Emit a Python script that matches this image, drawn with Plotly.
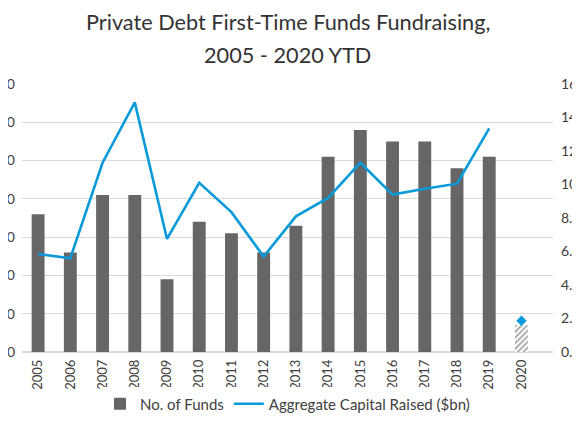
import plotly.graph_objects as go

years = ["2005", "2006", "2007", "2008", "2009", "2010", "2011", "2012",
         "2013", "2014", "2015", "2016", "2017", "2018", "2019", "2020"]
num_funds = [36, 26, 41, 41, 19, 34, 31, 26, 33, 51, 58, 55, 55, 48, 51, 7]
capital_bn = [5.85, 5.6, 11.3, 14.9, 6.75, 10.1, 8.35, 5.7, 8.1, 9.2, 11.3, 9.4,
              9.75, 10.05, 13.35, 1.87]
title_lines = ["Private Debt First-Time Funds Fundraising,", "2005 - 2020 YTD"]

BAR = "#676565"
BLUE = "#0a9ad9"
FONT = "Lato, 'Noto Sans', sans-serif"

patterns = [""] * (len(years) - 1) + ["/"]
bar_colors = [BAR] * (len(years) - 1) + ["white"]

fig = go.Figure()
fig.add_trace(go.Bar(
    x=years, y=num_funds, name="No. of Funds", width=0.4,
    marker=dict(color=bar_colors, line=dict(width=0),
                pattern=dict(shape=patterns, fgcolor="#5e5e5e", bgcolor="white",
                             size=4, solidity=0.45)),
    yaxis="y",
))
fig.add_trace(go.Scatter(
    x=years[:-1], y=capital_bn[:-1], name="Aggregate Capital Raised ($bn)",
    mode="lines", line=dict(color=BLUE, width=2.6), yaxis="y2",
))
fig.add_trace(go.Scatter(
    x=years[-1:], y=capital_bn[-1:], mode="markers", showlegend=False,
    marker=dict(symbol="diamond", size=8, color=BLUE), yaxis="y2",
))

for text, ypos in zip(title_lines, [1.2295, 1.108]):
    fig.add_annotation(text=text, xref="paper", yref="paper", x=0.5, y=ypos,
                       xanchor="center", yanchor="middle", showarrow=False,
                       font=dict(size=21.7, color="#333333", family=FONT))

fig.update_layout(
    width=580, height=435,
    margin=dict(l=14, r=35, t=76, b=91, autoexpand=False),
    paper_bgcolor="white", plot_bgcolor="white",
    font=dict(family=FONT, color="#404040", size=13),
    bargap=0.6,
    xaxis=dict(type="category", tickangle=-90, showgrid=False, showline=False,
               automargin=False,
               ticks="", tickfont=dict(size=13, color="#404040"), ticklabelstandoff=4),
    yaxis=dict(range=[0, 70], dtick=10, showgrid=True, gridcolor="#d9d9d9",
               gridwidth=1, zeroline=True, zerolinecolor="#d9d9d9", showline=False,
               automargin=False,
               ticks="", tickfont=dict(size=14, color="#404040"), ticklabelstandoff=6),
    yaxis2=dict(range=[0, 16], dtick=2, tickformat=".1f", overlaying="y", side="right",
                showgrid=False, zeroline=False, showline=False, ticks="", automargin=False,
                tickfont=dict(size=14, color="#404040"), ticklabelstandoff=7),
    legend=dict(orientation="h", x=0.5, xanchor="center", y=-0.194, yanchor="middle",
                font=dict(size=15, color="#404040"), traceorder="normal"),
    showlegend=True,
)

fig.write_html("out.html")
